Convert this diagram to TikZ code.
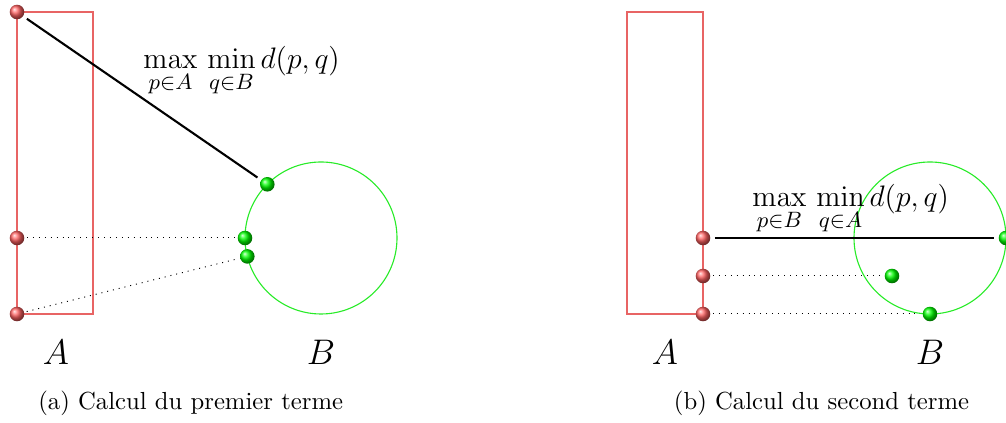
\documentclass[tikz,border=0pt]{standalone}
\usepackage{amsmath}
\definecolor{setAcol}{RGB}{232,100,100}
\definecolor{setBcol}{RGB}{40,235,40}
\begin{document}
\begin{tikzpicture}[x=0.405pt,y=-0.405pt,
  rball/.style={circle,inner sep=0pt,minimum size=5.9pt,outer sep=1.1pt,shading=ball,ball color=red!62},
  gball/.style={circle,inner sep=0pt,minimum size=5.9pt,outer sep=1.1pt,shading=ball,ball color=green},
  setA/.style={draw=setAcol,line width=0.6pt},
  setB/.style={draw=setBcol,line width=0.45pt},
  far/.style={black,line width=0.85pt,shorten <=0.8pt,shorten >=0.8pt},
  near/.style={black,line width=0.4pt,dotted},
  setlabel/.style={inner sep=0pt,font=\fontsize{13.5}{16}\selectfont},
  formula/.style={inner sep=0pt,anchor=base west,font=\fontsize{12.9}{15}\selectfont},
  caption/.style={inner sep=0pt,anchor=base,font=\fontsize{10}{12}\selectfont}]
\useasboundingbox (0,0) rectangle (1006,423);
% ---------- left panel ----------
\draw[setA] (17,12) rectangle (93,314);
\draw[setB] (321,238) circle[radius=30.78pt];
\node[rball] (a1) at (17,12) {};
\node[rball] (a2) at (17,238) {};
\node[rball] (a3) at (17,314) {};
\node[gball] (b1) at (267.3,184.3) {};
\node[gball] (b2) at (245,238) {};
\node[gball] (b3) at (247.3,256.4) {};
\draw[far] (a1) -- (b1);
\draw[near] (a2) -- (b2);
\draw[near] (a3) -- (b3);
\node[formula] (fa) at (143,69) {$\max\limits_{p\in A}\,\min\limits_{q\in B} d(p,q)$};
\node[setlabel] (la) at (56,352) {$A$};
\node[setlabel] (lb) at (321,352) {$B$};
\node[caption] (ca) at (190.7,410) {(a) Calcul du premier terme};
% ---------- right panel ----------
\draw[setA] (627,12) rectangle (703,314);
\draw[setB] (930,238) circle[radius=30.78pt];
\node[rball] (c1) at (703,238) {};
\node[rball] (c2) at (703,276) {};
\node[rball] (c3) at (703,314) {};
\node[gball] (d1) at (1006,238) {};
\node[gball] (d2) at (892,276) {};
\node[gball] (d3) at (930,314) {};
\draw[far] (c1) -- (d1);
\draw[near] (c2) -- (d2);
\draw[near] (c3) -- (d3);
\node[formula] (fb) at (752,207) {$\max\limits_{p\in B}\,\min\limits_{q\in A} d(p,q)$};
\node[setlabel] (lc) at (665,352) {$A$};
\node[setlabel] (ld) at (930,352) {$B$};
\node[caption] (cb) at (821.5,410) {(b) Calcul du second terme};
\end{tikzpicture}
\end{document}
